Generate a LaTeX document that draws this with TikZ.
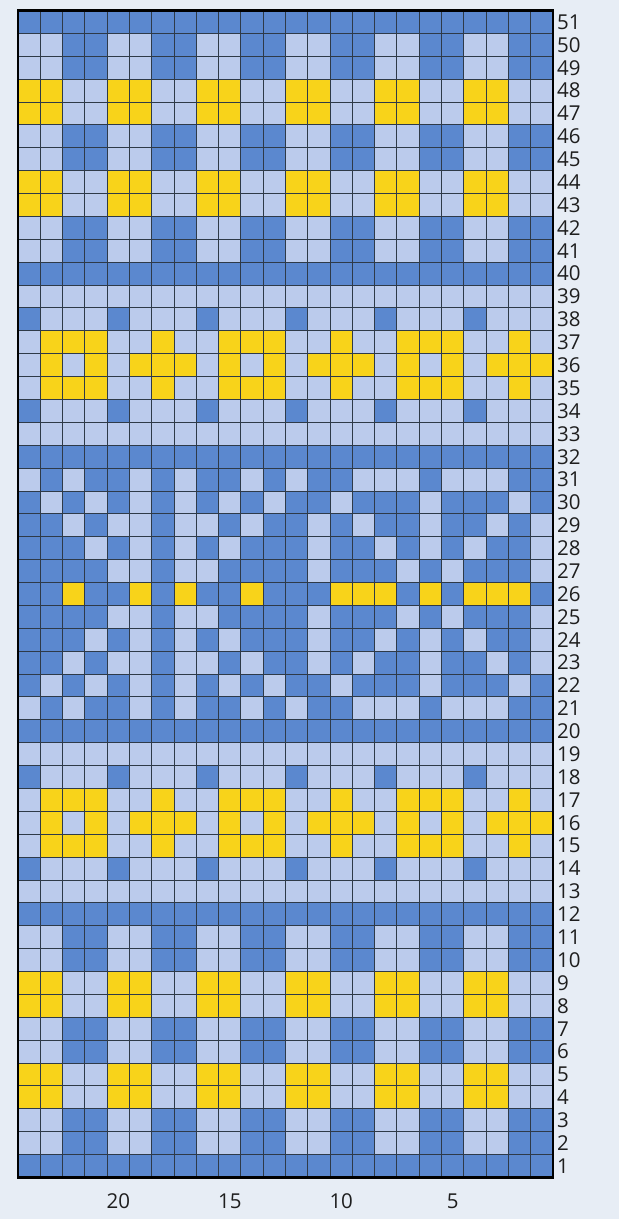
\documentclass[tikz,border=0pt]{standalone}
\usepackage{fontspec}
\setmainfont{Open Sans}
\definecolor{colD}{HTML}{5B88CF}
\definecolor{colL}{HTML}{BBCBEC}
\definecolor{colY}{HTML}{F8D31A}
\definecolor{bgcol}{HTML}{E7EDF5}
\definecolor{gridcol}{HTML}{2E3A48}
\definecolor{txtcol}{HTML}{1E1E1E}
\def\patA{D,D,D,D,D,D,D,D,D,D,D,D,D,D,D,D,D,D,D,D,D,D,D,D}
\def\patB{L,L,L,L,L,L,L,L,L,L,L,L,L,L,L,L,L,L,L,L,L,L,L,L}
\def\patC{L,L,D,D,L,L,D,D,L,L,D,D,L,L,D,D,L,L,D,D,L,L,D,D}
\def\patE{Y,Y,L,L,Y,Y,L,L,Y,Y,L,L,Y,Y,L,L,Y,Y,L,L,Y,Y,L,L}
\def\patF{D,L,L,L,D,L,L,L,D,L,L,L,D,L,L,L,D,L,L,L,D,L,L,L}
\def\patG{L,Y,Y,Y,L,L,Y,L,L,Y,Y,Y,L,L,Y,L,L,Y,Y,Y,L,L,Y,L}
\def\patH{L,Y,L,Y,L,Y,Y,Y,L,Y,L,Y,L,Y,Y,Y,L,Y,L,Y,L,Y,Y,Y}
\def\patK{L,D,L,D,D,L,D,L,D,D,L,D,L,D,D,L,L,L,D,L,L,L,D,D}
\def\patM{D,L,D,L,D,L,D,L,D,L,D,L,D,D,L,D,D,D,L,D,D,D,L,D}
\def\patN{D,D,L,D,L,L,D,L,L,D,L,D,D,L,D,L,D,D,L,D,D,L,D,L}
\def\patP{D,D,D,L,D,L,D,L,D,L,D,D,D,L,D,D,L,D,L,D,L,D,D,L}
\def\patQ{D,D,D,D,L,L,D,L,L,D,D,D,D,L,D,D,D,L,D,L,D,D,D,L}
\def\patS{D,D,Y,D,D,Y,D,Y,D,D,Y,D,D,D,Y,Y,Y,D,Y,D,Y,Y,Y,D}
\tikzset{
  gridline/.style={draw=gridcol,line width=1pt},
  frameline/.style={draw=black,line width=2.8pt},
  rowlabel/.style={anchor=west,inner sep=0pt,text=txtcol,font=\fontsize{20.5}{20.5}\selectfont},
  collabel/.style={anchor=center,inner sep=0pt,text=txtcol,font=\fontsize{20.5}{20.5}\selectfont}
}
\begin{document}
\begin{tikzpicture}[x=1pt,y=-1pt]
\fill[bgcol] (0,0) rectangle (619,1219);
\useasboundingbox (0,0) rectangle (619,1219);
\def\gl{18}\def\gt{10.5}\def\cw{22.292}\def\rh{22.882}
\foreach \r/\p in {51/A,50/C,49/C,48/E,47/E,46/C,45/C,44/E,43/E,42/C,41/C,40/A,39/B,38/F,37/G,36/H,35/G,34/F,33/B,32/A,31/K,30/M,29/N,28/P,27/Q,26/S,25/Q,24/P,23/N,22/M,21/K,20/A,19/B,18/F,17/G,16/H,15/G,14/F,13/B,12/A,11/C,10/C,9/E,8/E,7/C,6/C,5/E,4/E,3/C,2/C,1/A}{
  \expandafter\let\expandafter\curpat\csname pat\p\endcsname
  \foreach \c [count=\i] in \curpat {
    \fill[fill=col\c] ({\gl+(\i-1)*\cw},{\gt+(51-\r)*\rh}) rectangle +(\cw,\rh);
  }
}
\foreach \i in {1,...,23} \draw[gridline] ({\gl+\i*\cw},\gt) -- ({\gl+\i*\cw},{\gt+51*\rh});
\foreach \j in {1,...,50} \draw[gridline] (\gl,{\gt+\j*\rh}) -- ({\gl+24*\cw},{\gt+\j*\rh});
\draw[frameline] (\gl,\gt) rectangle ({\gl+24*\cw},{\gt+51*\rh});
\foreach \r in {1,...,51} \node[rowlabel] (row\r) at ({\gl+24*\cw+4},{\gt+(51-\r+0.5)*\rh}) {\r};
\foreach \c in {5,10,15,20} \node[collabel] (col\c) at ({\gl+(24-\c+0.5)*\cw},1201) {\c};
\end{tikzpicture}
\end{document}
